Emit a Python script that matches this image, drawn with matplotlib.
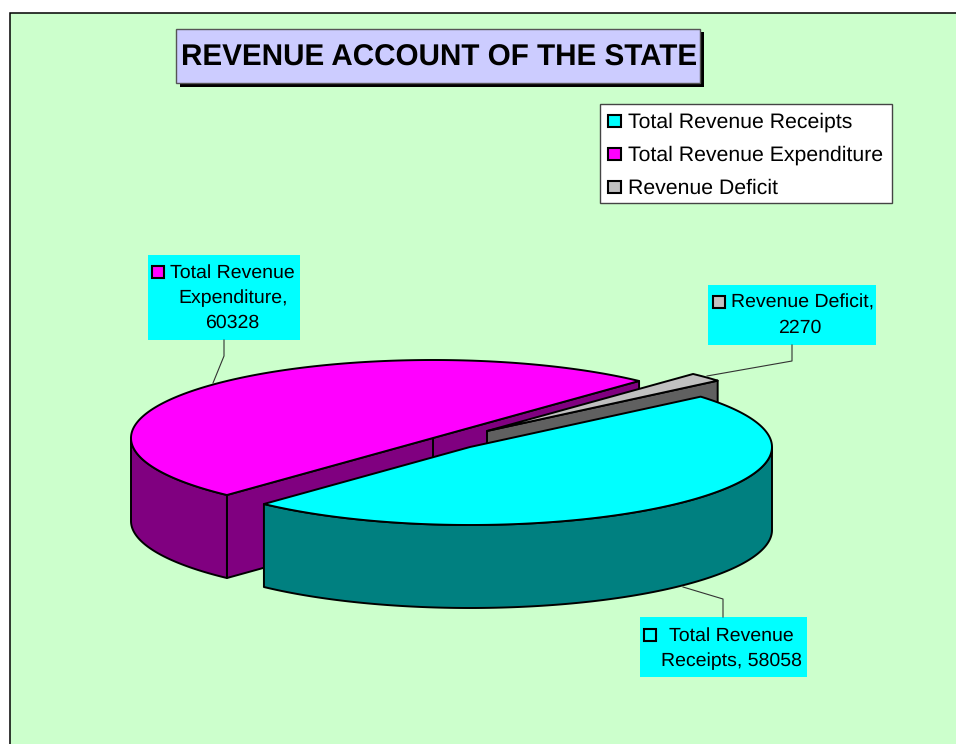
import numpy as np
import matplotlib
matplotlib.use('Agg')
import matplotlib.pyplot as plt
from matplotlib.patches import Polygon, Rectangle

plt.rcParams['font.family'] = ['Liberation Sans', 'DejaVu Sans']
plt.rcParams['text.hinting'] = 'no_hinting'

# Chart data
categories = ['Total Revenue Receipts', 'Total Revenue Expenditure', 'Revenue Deficit']
values = [58058, 60328, 2270]
title = 'REVENUE ACCOUNT OF THE STATE'

# Colours per slice: top and side
top_colors = ['#00FFFF', '#FF00FF', '#C0C0C0']
side_colors = ['#008080', '#800080', '#606060']

# Pie geometry in pixels; each slice has its own centre because it is exploded
centers = [(470, 447), (433, 438), (487, 431)]
rx, ry = 302, 78
depth = 83
start_angle = 40.2
draw_order = [1, 2, 0]

fig = plt.figure(figsize=(9.56, 7.44), dpi=100)
ax = fig.add_axes([0, 0, 1, 1])
ax.set_xlim(0, 956)
ax.set_ylim(744, 0)
ax.axis('off')

# Chart area
ax.add_patch(Rectangle((10, 13), 960, 745, fc='#CCFFCC', ec='black', lw=1.1, zorder=0))

# Slice angles come from the values, clockwise from the start angle
spans = 360 * np.array(values) / np.sum(values)
ends = start_angle - np.cumsum(spans)
starts = ends + spans
LW = 1.4


def point(c, t):
    r = np.radians(t)
    return c[0] + rx * np.cos(r), c[1] - ry * np.sin(r)


def draw_slice(i, z):
    c = centers[i]
    t1, t0 = starts[i], ends[i]
    top, side = top_colors[i], side_colors[i]
    # cut faces that look to the viewer
    faces = {0: [], 1: [t0, t1], 2: [t0]}[i]
    for t in faces:
        x, y = point(c, t)
        ax.add_patch(Polygon([c, (x, y), (x, y + depth), (c[0], c[1] + depth)],
                             fc=side, ec='black', lw=LW, joinstyle='round', zorder=z))
    # outer wall, front half only
    tt = np.linspace(t0, t1, 300)
    xs, ys = point(c, tt)
    front = np.sin(np.radians(tt)) <= 0
    if front.any():
        wx, wy = xs[front], ys[front]
        wall = np.r_[np.c_[wx, wy], np.c_[wx, wy + depth][::-1]]
        ax.add_patch(Polygon(wall, fc=side, ec='black', lw=LW, joinstyle='round', zorder=z))
    # top
    ax.add_patch(Polygon(np.r_[[c], np.c_[xs, ys]], fc=top, ec='black', lw=LW,
                         joinstyle='round', zorder=z))


for n, i in enumerate(draw_order):
    draw_slice(i, 2 + n)

# Title with shadow
ax.add_patch(Rectangle((180, 32), 524, 55, fc='black', ec='black', lw=0, zorder=6))
ax.add_patch(Rectangle((176.5, 28.5), 524, 54, fc='#CCCCFF', ec='#555555', lw=1, zorder=7))
ax.text(439.5, 66, title, fontsize=21.3, fontweight='bold', ha='center', va='baseline', zorder=8)

# Legend
ax.add_patch(Rectangle((600.5, 103.5), 291.5, 99.5, fc='white', ec='#444444', lw=1, zorder=6))
for i, y in zip(range(3), [121, 154, 187]):
    ax.add_patch(Rectangle((608, y - 6.5), 13, 12.5, fc=top_colors[i], ec='black', lw=1.5, zorder=7))
    ax.text(628, y + 7, categories[i], fontsize=15.3, ha='left', va='baseline', zorder=8)

# Data labels: (box, marker, lines, leader)
label_boxes = [(640, 617, 167, 60), (148, 255, 152, 85), (708, 285, 168, 60)]
label_markers = [(644.5, 629), (152.5, 266), (713.5, 296)]
label_lines = [
    [('Total Revenue', 669, 634), ('Receipts, %d' % values[0], 661, 659)],
    [('Total Revenue', 170, 271), ('Expenditure,', 178, 296), ('%d' % values[1], 205, 321)],
    [('Revenue Deficit,', 731, 301), ('%d' % values[2], 778, 326)],
]
leaders = [
    [(683, 587), (723, 599), (723, 617)],
    [(224, 340), (224, 356), (213, 383)],
    [(792, 345), (792, 361), (707, 376)],
]

for i in range(3):
    ax.add_patch(Rectangle(label_boxes[i][:2], *label_boxes[i][2:], fc='#00FFFF', ec='none', zorder=6))
    ax.add_patch(Rectangle(label_markers[i], 12, 12, fc=top_colors[i], ec='black', lw=1.5, zorder=7))
    for txt, x, y in label_lines[i]:
        ax.text(x, y + 7, txt, fontsize=14, ha='left', va='baseline', zorder=8)
    lx, ly = zip(*leaders[i])
    ax.plot(lx, ly, color='#333333', lw=0.8, zorder=6)

fig.savefig('out.png', dpi=100, facecolor='white')
